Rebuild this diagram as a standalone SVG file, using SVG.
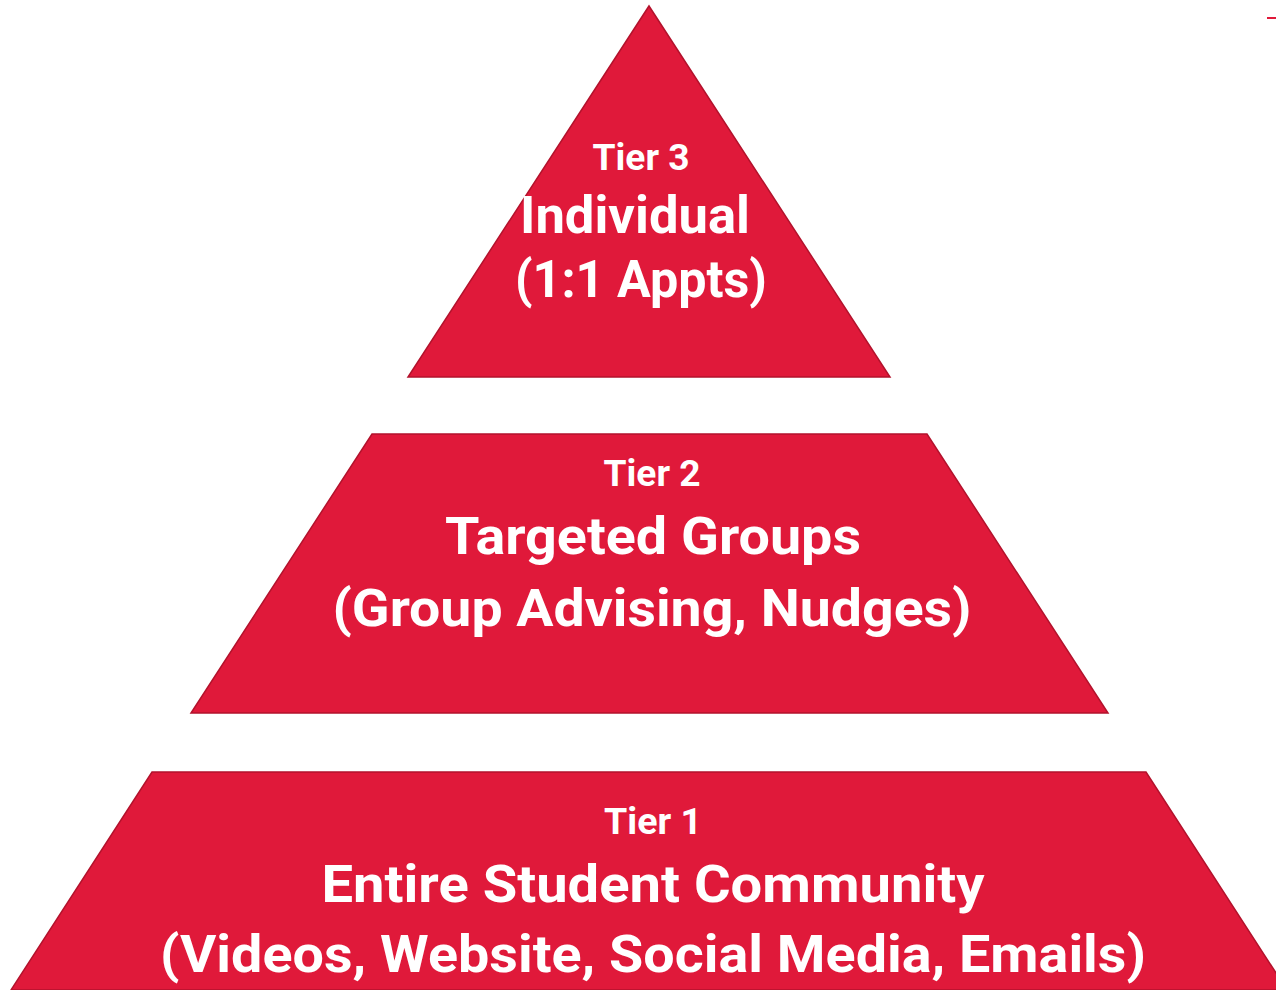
<svg xmlns="http://www.w3.org/2000/svg" width="1276" height="990" viewBox="0 0 1276 990">
<style>
.tier{fill:#E0193A;stroke:#B3122C;stroke-width:1.5}
text{font-family:Roboto,"Liberation Sans",sans-serif;font-weight:bold;fill:#FFFFFF;text-anchor:middle}
.t{font-size:36px}
.m{font-size:52px}
</style>
<rect width="1276" height="990" fill="#FFFFFF"/>
<line x1="1267" y1="18" x2="1276" y2="18" stroke="#E0193A" stroke-width="2"/>
<g id="tier3">
<polygon class="tier" points="649,6 890,377 408,377"/>
<text class="t" x="641" y="170" textLength="97" lengthAdjust="spacingAndGlyphs">Tier 3</text>
<text class="m" x="635" y="233" textLength="230" lengthAdjust="spacingAndGlyphs">Individual</text>
<text class="m" x="641" y="297" textLength="252" lengthAdjust="spacingAndGlyphs">(1:1 Appts)</text>
</g>
<g id="tier2">
<polygon class="tier" points="372,434 927,434 1108,713 191,713"/>
<text class="t" x="652" y="486" textLength="97" lengthAdjust="spacingAndGlyphs">Tier 2</text>
<text class="m" x="653" y="554" textLength="416" lengthAdjust="spacingAndGlyphs">Targeted Groups</text>
<text class="m" x="652" y="626" textLength="639" lengthAdjust="spacingAndGlyphs">(Group Advising, Nudges)</text>
</g>
<g id="tier1">
<polygon class="tier" points="152,772 1146,772 1287,990 11,990"/>
<text class="t" x="653" y="834" textLength="98" lengthAdjust="spacingAndGlyphs">Tier 1</text>
<text class="m" x="653" y="902" textLength="663" lengthAdjust="spacingAndGlyphs">Entire Student Community</text>
<text class="m" x="653" y="972" textLength="986" lengthAdjust="spacingAndGlyphs">(Videos, Website, Social Media, Emails)</text>
</g>
<g id="connectors"></g>
</svg>
